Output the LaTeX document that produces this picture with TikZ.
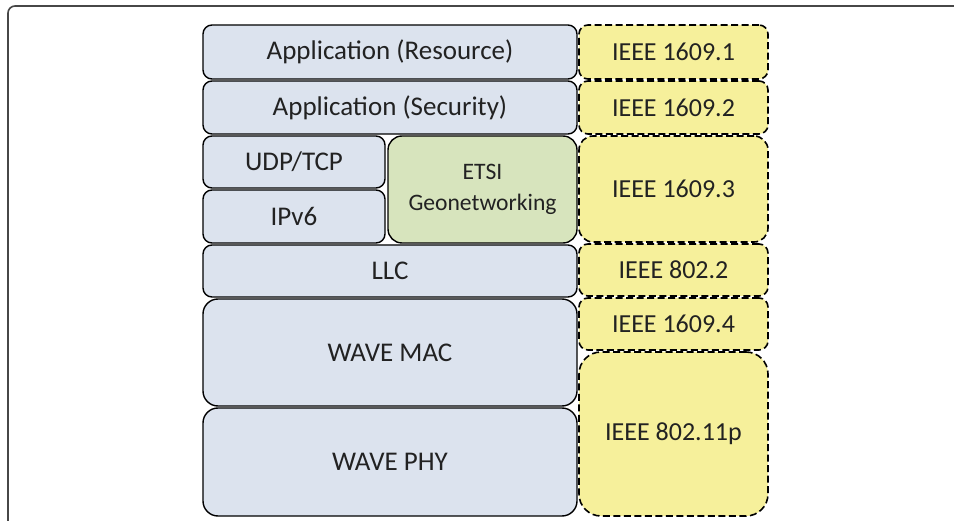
\documentclass[tikz,border=0pt]{standalone}
\usepackage{fontspec}
\setmainfont{Carlito}
\usetikzlibrary{positioning}
\definecolor{cstack}{HTML}{DCE3EE}
\definecolor{cgeo}{HTML}{D7E4BD}
\definecolor{cstd}{HTML}{F6F09B}
\definecolor{ctext}{HTML}{222222}
\definecolor{cframe}{HTML}{474747}
\tikzset{
  every picture/.style={line width=1.4pt},
  stackbox/.style={draw=black, fill=cstack, rounded corners=#1, inner sep=0pt, text=ctext, align=center, font=\fontsize{27}{31}\selectfont},
  stackbox/.default=9pt,
  geobox/.style={stackbox=#1, fill=cgeo, font=\fontsize{23.6}{30}\selectfont},
  geobox/.default=14pt,
  stdbox/.style={stackbox=#1, fill=cstd, line width=1.6pt, dash pattern=on 7pt off 3.5pt, font=\fontsize{26}{30}\selectfont},
  stdbox/.default=9pt,
}

\begin{document}
\begin{tikzpicture}[x=1pt, y=-1pt]
  \useasboundingbox (0,0) rectangle (954,521);
  \draw[cframe, line width=1.6pt, rounded corners=7pt] (8,6) rectangle (980,545);
  % protocol stack
  \node[stackbox, minimum width=374pt, minimum height=54pt] (res) at (390,52) {Application (Resource)};
  \node[stackbox, minimum width=374pt, minimum height=53pt] (sec) at (390,107.5) {Application (Security)};
  \node[stackbox, minimum width=182pt, minimum height=52pt] (udp) at (294,162) {UDP/TCP};
  \node[stackbox, minimum width=182pt, minimum height=53pt] (ipv6) at (294,216.5) {IPv6};
  \node[geobox, minimum width=189pt, minimum height=107pt] (etsi) at (482.5,189.5) {ETSI\\[1pt]Geonetworking};
  \node[stackbox, minimum width=374pt, minimum height=52pt] (llc) at (390,271) {LLC};
  \node[stackbox=15pt, minimum width=374pt, minimum height=107pt] (mac) at (390,352.5) {WAVE MAC};
  \node[stackbox=15pt, minimum width=374pt, minimum height=108pt] (phy) at (390,462) {WAVE PHY};
  % standards
  \node[stdbox, minimum width=189pt, minimum height=54pt] (s1) at (673.5,52) {IEEE 1609.1};
  \node[stdbox, minimum width=189pt, minimum height=53pt] (s2) at (673.5,107.5) {IEEE 1609.2};
  \node[stdbox=14pt, minimum width=189pt, minimum height=106pt] (s3) at (673.5,189) {IEEE 1609.3};
  \node[stdbox, minimum width=189pt, minimum height=52pt] (s4) at (673.5,270) {IEEE 802.2};
  \node[stdbox, minimum width=189pt, minimum height=52pt] (s5) at (673.5,324) {IEEE 1609.4};
  \node[stdbox=22pt, minimum width=189pt, minimum height=164pt] (s6) at (673.5,434) {IEEE 802.11p};
\end{tikzpicture}
\end{document}
